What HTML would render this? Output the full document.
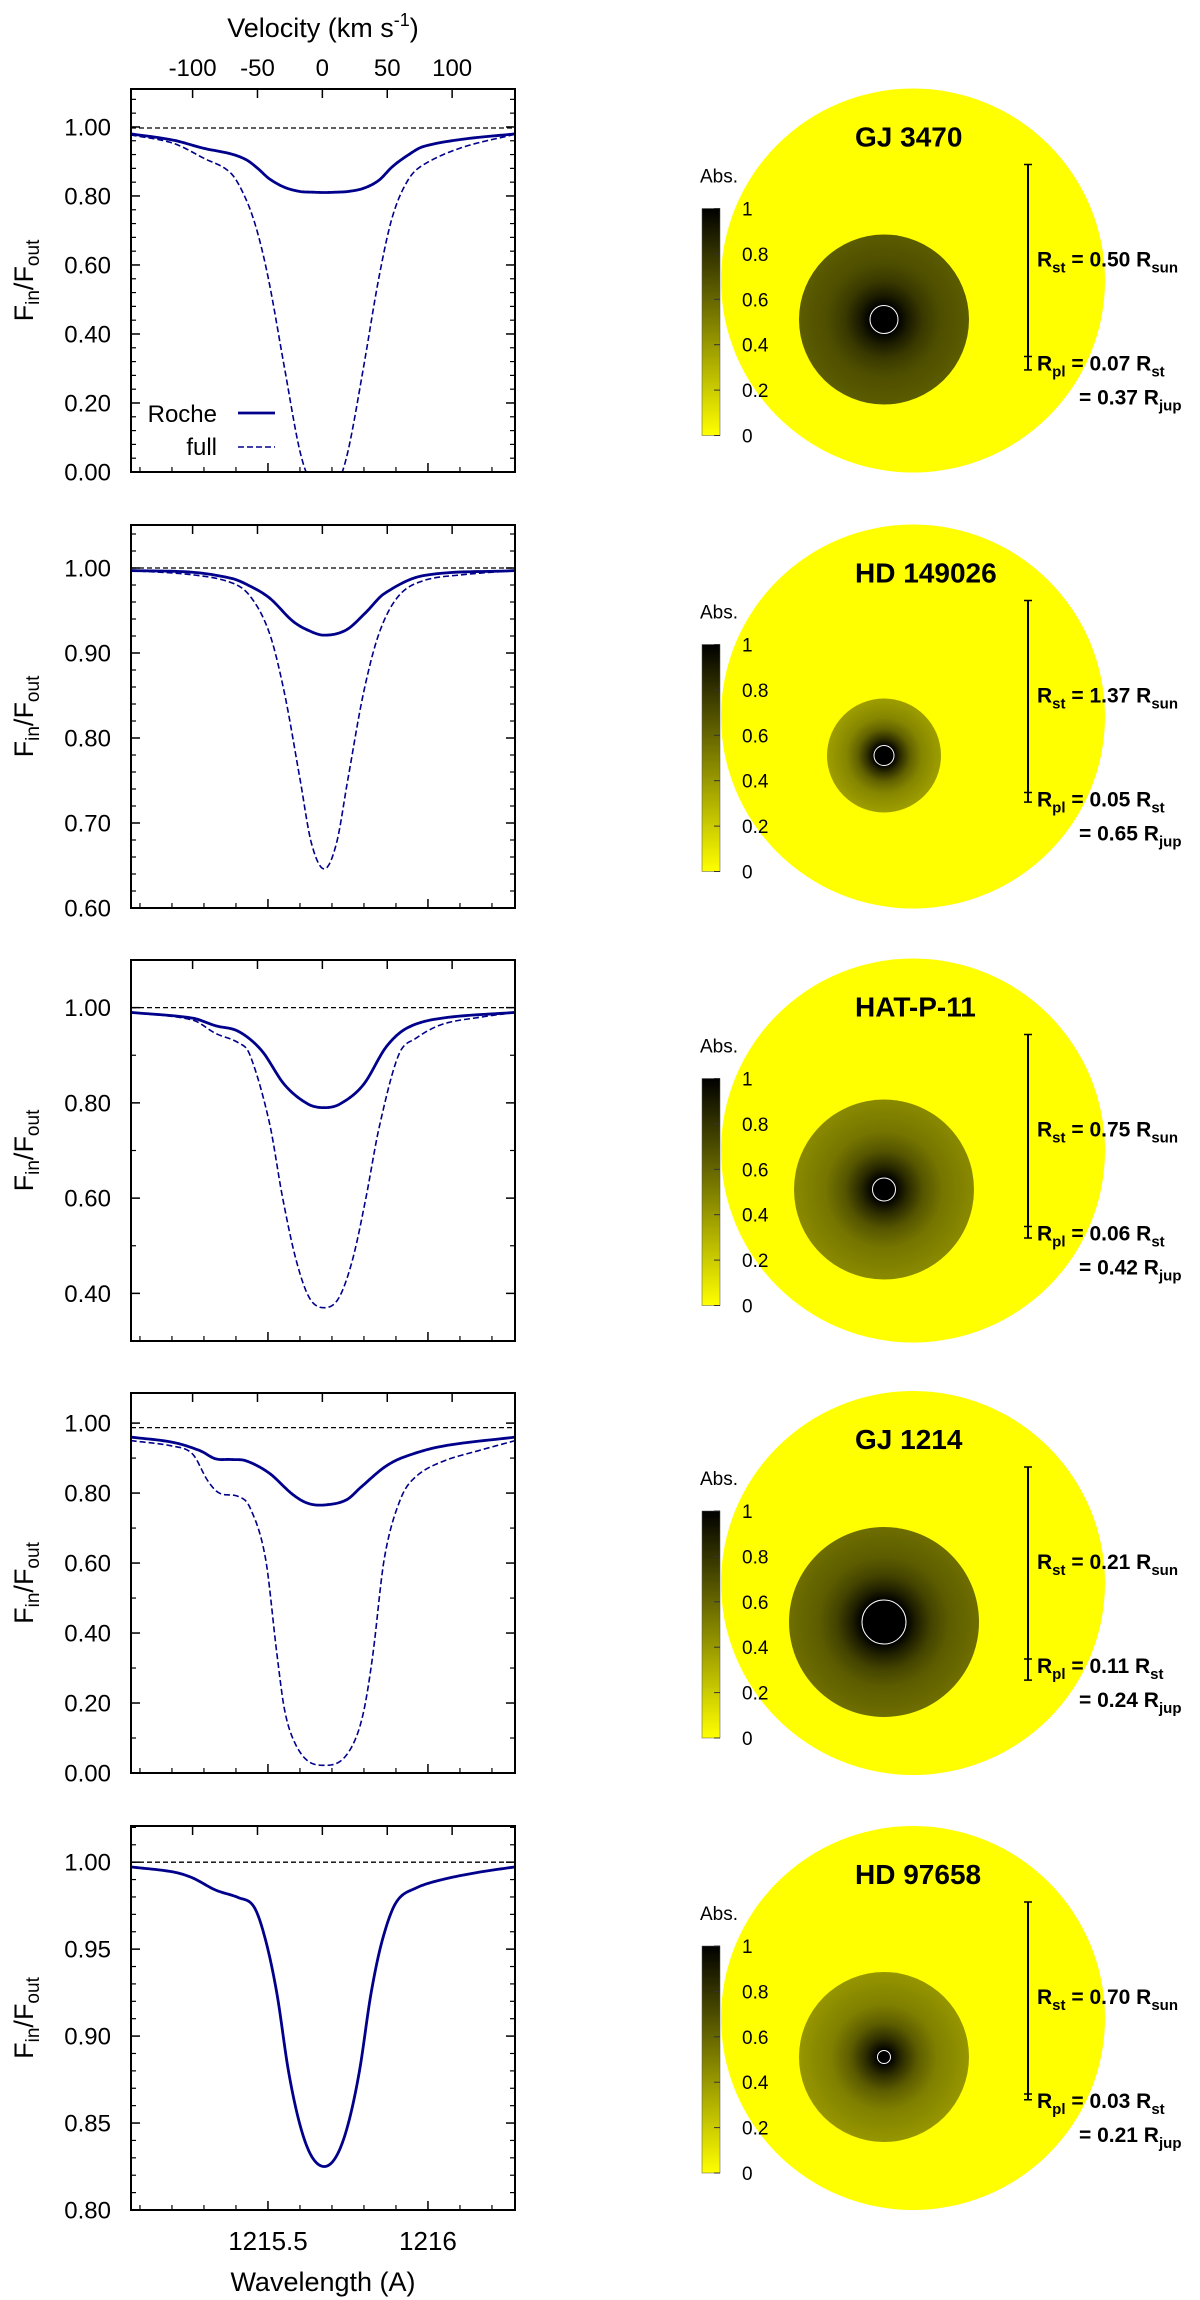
<!DOCTYPE html>
<html><head><meta charset="utf-8"><title>Lyman-alpha transit profiles</title>
<style>
html,body{margin:0;padding:0;background:#fff;}
svg{display:block;font-family:"Liberation Sans",sans-serif;}
</style></head>
<body>
<svg id="fig" width="1200" height="2300" viewBox="0 0 1200 2300" xmlns="http://www.w3.org/2000/svg"></svg>
<script>
// ---- data ----
const panelNames = ["GJ 3470","HD 149026","HAT-P-11","GJ 1214","HD 97658"];
const yMins = [0, 0.6, 0.3, 0, 0.8];
const yMaxs = [1.11, 1.0506, 1.10, 1.086, 1.0208];
const yMajorTicks = [[0,0.2,0.4,0.6,0.8,1.0],[0.6,0.7,0.8,0.9,1.0],[0.4,0.6,0.8,1.0],[0,0.2,0.4,0.6,0.8,1.0],[0.8,0.85,0.9,0.95,1.0]];
const yMinorSteps = [0.04,0.02,0.1,0.1,0.01];
const yTickDecimals = 2;
const refLevels = [0.997, 1.0, 1.0, 0.987, 1.0];
const xTicksMajor = [1215.5, 1216];
const xTickLabels = ["1215.5","1216"];
const xTicksMinor = [1215.1,1215.2,1215.3,1215.4,1215.6,1215.7,1215.8,1215.9,1216.1,1216.2];
const velTicks = [-100,-50,0,50,100];
const lambda0 = 1215.67;

const p1RocheLam = [1215.071,1215.203,1215.300,1215.384,1215.432,1215.468,1215.504,1215.552,1215.600,1215.639,1215.676,1215.714,1215.750,1215.798,1215.846,1215.889,1215.937,1215.985,1216.105,1216.273];
const p1RocheVal = [.98,.962,.938,.922,.905,.88,.85,.825,.813,.811,.81,.811,.813,.822,.845,.885,.918,.943,.964,.98];
const p1FullLam = p1RocheLam;
const p1FullVal = [.977,.953,.909,.866,.789,.692,.548,.30,.06,-0.04,-0.06,-0.04,.06,.30,.56,.74,.845,.89,.94,.979];

const p2RocheLam = [1215.071,1215.264,1215.384,1215.432,1215.504,1215.576,1215.624,1215.676,1215.744,1215.804,1215.864,1215.985,1216.273];
const p2RocheVal = [.997,.995,.988,.981,.965,.938,.927,.921,.927,.947,.97,.991,.997];
const p2FullLam = [1215.071,1215.264,1215.384,1215.444,1215.504,1215.552,1215.600,1215.636,1215.676,1215.714,1215.750,1215.798,1215.848,1215.908,1215.985,1216.105,1216.273];
const p2FullVal = [.997,.992,.983,.967,.924,.852,.752,.676,.646,.676,.752,.852,.924,.967,.985,.992,.997];

const p3RocheLam = [1215.071,1215.264,1215.336,1215.408,1215.480,1215.552,1215.624,1215.676,1215.726,1215.798,1215.870,1215.937,1216.045,1216.273];
const p3RocheVal = [.99,.978,.962,.95,.91,.838,.798,.79,.798,.838,.918,.958,.978,.99];
const p3FullLam = [1215.071,1215.264,1215.336,1215.408,1215.444,1215.504,1215.546,1215.588,1215.630,1215.676,1215.721,1215.764,1215.806,1215.848,1215.908,1215.961,1216.045,1216.165,1216.273];
const p3FullVal = [.99,.974,.946,.926,.90,.76,.60,.47,.39,.37,.39,.47,.60,.75,.90,.935,.965,.98,.99];

const p4RocheLam = [1215.071,1215.203,1215.288,1215.336,1215.384,1215.432,1215.504,1215.576,1215.624,1215.676,1215.744,1215.792,1215.864,1215.925,1216.045,1216.273];
const p4RocheVal = [.96,.945,.921,.898,.896,.892,.857,.797,.771,.766,.78,.818,.874,.903,.934,.96];
const p4FullLam = [1215.071,1215.203,1215.264,1215.312,1215.348,1215.408,1215.444,1215.492,1215.528,1215.552,1215.582,1215.624,1215.676,1215.728,1215.770,1215.800,1215.828,1215.864,1215.913,1215.961,1216.045,1216.165,1216.273];
const p4FullVal = [.95,.934,.912,.835,.80,.79,.758,.615,.34,.18,.09,.035,.022,.035,.09,.18,.34,.615,.78,.846,.89,.923,.95];

const p5RocheLam = [1215.071,1215.203,1215.264,1215.336,1215.408,1215.456,1215.492,1215.528,1215.564,1215.600,1215.636,1215.676,1215.714,1215.750,1215.786,1215.822,1215.858,1215.901,1215.961,1216.045,1216.165,1216.273];
const p5RocheVal = [.9973,.9944,.991,.984,.9796,.9744,.9556,.9244,.88,.849,.831,.825,.831,.849,.88,.9244,.9556,.977,.985,.99,.9944,.9973];

const rocheLams = [p1RocheLam,p2RocheLam,p3RocheLam,p4RocheLam,p5RocheLam];
const rocheVals = [p1RocheVal,p2RocheVal,p3RocheVal,p4RocheVal,p5RocheVal];
const fullLams = [p1FullLam,p2FullLam,p3FullLam,p4FullLam,null];
const fullVals = [p1FullVal,p2FullVal,p3FullVal,p4FullVal,null];

// right column: star maps
const rStarLabels = ["0.50","1.37","0.75","0.21","0.70"];
const rPlStLabels = ["0.07","0.05","0.06","0.11","0.03"];
const rPlJupLabels = ["0.37","0.65","0.42","0.24","0.21"];
const rPlRatio = [0.07,0.05,0.06,0.11,0.03];
const planetPx = [14,10,11.5,22,6.5];
const cloudPx = [85,57,90,95,85];
const cloudEdgeAbs = [0.64,0.38,0.46,0.57,0.41];
const cbTicks = [0,0.2,0.4,0.6,0.8,1];
const cbLabels = ["0","0.2","0.4","0.6","0.8","1"];

// ---- layout ----
const NS = "http://www.w3.org/2000/svg";
const svg = document.getElementById('fig');
const XL = 131, XR = 515, LMIN = 1215.072, LMAX = LMIN + (XR-XL)/320;
const panelTops = [89,525,960,1393,1826];
const panelBots = [472,908,1341,1773,2210];
const NAVY = "#00008b";

function el(tag, attrs, parent){const e=document.createElementNS(NS,tag);for(const k in attrs)e.setAttribute(k,attrs[k]);(parent||svg).appendChild(e);return e;}
function xs(l){return XL + (l-LMIN)/(LMAX-LMIN)*(XR-XL);}
function ysFor(i){const t=panelTops[i],b=panelBots[i];return v=>b-(v-yMins[i])/(yMaxs[i]-yMins[i])*(b-t);}
// cubic Hermite with centred finite-difference slopes, sampled densely
function smoothPath(X, Y){
  const n=X.length, m=new Array(n);
  m[0]=(Y[1]-Y[0])/(X[1]-X[0]); m[n-1]=(Y[n-1]-Y[n-2])/(X[n-1]-X[n-2]);
  for(let i=1;i<n-1;i++) m[i]=(Y[i+1]-Y[i-1])/(X[i+1]-X[i-1]);
  let s="";
  for(let i=0;i<n-1;i++){
    const h=X[i+1]-X[i], N=14;
    for(let k=(i===0?0:1);k<=N;k++){
      const t=k/N, t2=t*t, t3=t2*t;
      const y=(2*t3-3*t2+1)*Y[i]+(t3-2*t2+t)*h*m[i]+(-2*t3+3*t2)*Y[i+1]+(t3-t2)*h*m[i+1];
      const x=X[i]+t*h;
      s+=(s?" L":"M")+x.toFixed(2)+","+y.toFixed(2);
    }
  }
  return s;
}

const defs = el('defs',{});
for(let i=0;i<5;i++){
  const t=panelTops[i], b=panelBots[i], ys=ysFor(i);
  const g = el('g',{});
  
  
  const cp = el('clipPath',{id:'clip'+i},defs);
  el('rect',{x:XL,y:t,width:XR-XL,height:b-t},cp);
  const ref = el('line',{x1:XL,x2:XR,y1:ys(refLevels[i]),y2:ys(refLevels[i]),stroke:'#000','stroke-width':1.3,'stroke-dasharray':'5,3'},g);
  
  
  if(fullLams[i]){
    const p=el('path',{d:smoothPath(fullLams[i].map(xs),fullVals[i].map(ys)),fill:'none',stroke:NAVY,'stroke-width':1.6,'stroke-dasharray':'6,3','clip-path':'url(#clip'+i+')'},g);
    
    
  }
  const rp=el('path',{d:smoothPath(rocheLams[i].map(xs),rocheVals[i].map(ys)),fill:'none',stroke:NAVY,'stroke-width':2.8,'stroke-linejoin':'round','clip-path':'url(#clip'+i+')'},g);
  
  
  const fr=el('rect',{x:XL,y:t,width:XR-XL,height:b-t,fill:'none',stroke:'#000','stroke-width':2},g);
  
  
  const maj=yMajorTicks[i];
  maj.forEach(v=>{
    const y=ys(v);
    el('line',{x1:XL,x2:XL+9,y1:y,y2:y,stroke:'#000','stroke-width':1.5},g);
    el('line',{x1:XR,x2:XR-9,y1:y,y2:y,stroke:'#000','stroke-width':1.5},g);
    const tx=el('text',{x:111,y:y+8.5,'text-anchor':'end','font-size':24,fill:'#000'},g);
    tx.textContent=v.toFixed(yTickDecimals);
    
    
  });
  const st=yMinorSteps[i];
  for(let v=Math.ceil(yMins[i]/st)*st; v<=yMaxs[i]+1e-9; v+=st){
    if(maj.some(m=>Math.abs(m-v)<1e-6)) continue;
    const y=ys(v);
    el('line',{x1:XL,x2:XL+5,y1:y,y2:y,stroke:'#000','stroke-width':1.2},g);
    el('line',{x1:XR,x2:XR-5,y1:y,y2:y,stroke:'#000','stroke-width':1.2},g);
  }
  xTicksMajor.forEach(l=>el('line',{x1:xs(l),x2:xs(l),y1:b,y2:b-9,stroke:'#000','stroke-width':1.5},g));
  xTicksMinor.forEach(l=>el('line',{x1:xs(l),x2:xs(l),y1:b,y2:b-5,stroke:'#000','stroke-width':1.2},g));
  velTicks.forEach(v=>{const l=lambda0*(1+v/299792.458);el('line',{x1:xs(l),x2:xs(l),y1:t,y2:t+9,stroke:'#000','stroke-width':1.5},g);});
  const cy=(t+b)/2;
  const yl=el('text',{x:0,y:0,transform:'translate(33,'+cy+') rotate(-90)','text-anchor':'middle','font-size':27,fill:'#000'},g);
  yl.innerHTML='F<tspan font-size="19" dy="6">in</tspan><tspan dy="-6">/F</tspan><tspan font-size="19" dy="6">out</tspan>';
  
  

  // ---- star map ----
  const cx=913, scy=(t+b)/2, R=192;
  const sg=el('g',{});
  
  
  const star=el('circle',{cx:cx,cy:scy,r:R,fill:'#ffff00'},sg);
  
  
  const gid='cg'+i, e=cloudEdgeAbs[i], rr=cloudPx[i], pr=planetPx[i]/rr;
  const rg=el('radialGradient',{id:gid},defs);
  const col=a=>{const c=Math.round(255*(1-a));return 'rgb('+c+','+c+',0)';};
  [[0,1],[pr,1],[pr+(1-pr)*0.15,e+(1-e)*0.7],[pr+(1-pr)*0.35,e+(1-e)*0.38],[pr+(1-pr)*0.6,e+(1-e)*0.15],[1,e]].forEach(s=>el('stop',{offset:s[0],'stop-color':col(s[1])},rg));
  const dcx=cx-29, dcy=scy+39;
  const cloud=el('circle',{cx:dcx,cy:dcy,r:rr,fill:'url(#'+gid+')'},sg);
  
  
  const pl=el('circle',{cx:dcx,cy:dcy,r:planetPx[i],fill:'#000',stroke:'#fff','stroke-width':1},sg);
  
  
  const ti=el('text',{x:855,y:scy-134,'font-size':28,'font-weight':'bold',fill:'#000'},sg);
  ti.textContent=panelNames[i];
  
  
  const cbT=scy-72, cbB=scy+155;
  const lg=el('linearGradient',{id:'cb'+i,x1:0,y1:1,x2:0,y2:0},defs);
  el('stop',{offset:0,'stop-color':'#ffff00'},lg);el('stop',{offset:1,'stop-color':'#000'},lg);
  const cb=el('rect',{x:702,y:cbT,width:18,height:cbB-cbT,fill:'url(#cb'+i+')',stroke:'#555','stroke-width':0.5},sg);
  
  
  cbTicks.forEach((v,k)=>{
    const y=cbB-v*(cbB-cbT);
    el('line',{x1:714,x2:720,y1:y,y2:y,stroke:'#333','stroke-width':1},sg);
    const tl=el('text',{x:742,y:y+7,'font-size':19,fill:'#000'},sg);
    tl.textContent=cbLabels[k];
    
    
  });
  const ab=el('text',{x:700,y:scy-98,'font-size':19,fill:'#000'},sg);
  ab.textContent='Abs.';
  
  
  const sbT=scy-R+76, tick=sbT+R, sbB=tick+rPlRatio[i]*R;
  el('line',{x1:1028,x2:1028,y1:sbT,y2:sbB,stroke:'#000','stroke-width':2},sg);
  [sbT,tick,sbB].forEach(y=>el('line',{x1:1024,x2:1032,y1:y,y2:y,stroke:'#000','stroke-width':1.5},sg));
  const t1=el('text',{x:1037,y:scy-14,'font-size':21,'font-weight':'bold',fill:'#000'},sg);
  t1.innerHTML='R<tspan font-size="15" dy="6">st</tspan><tspan dy="-6"> = '+rStarLabels[i]+' R</tspan><tspan font-size="15" dy="6">sun</tspan>';
  
  
  const t2=el('text',{x:1037,y:scy+90,'font-size':21,'font-weight':'bold',fill:'#000'},sg);
  t2.innerHTML='R<tspan font-size="15" dy="6">pl</tspan><tspan dy="-6"> = '+rPlStLabels[i]+' R</tspan><tspan font-size="15" dy="6">st</tspan>';
  
  
  const t3=el('text',{x:1079,y:scy+124,'font-size':21,'font-weight':'bold',fill:'#000'},sg);
  t3.innerHTML='= '+rPlJupLabels[i]+' R<tspan font-size="15" dy="6">jup</tspan>';
  
  
}

velTicks.forEach(v=>{
  const l=lambda0*(1+v/299792.458);
  const t=el('text',{x:xs(l),y:76,'text-anchor':'middle','font-size':24,fill:'#000'});
  t.textContent=String(v);
  
  
});
const vt=el('text',{x:323,y:37,'text-anchor':'middle','font-size':27,fill:'#000'});
vt.innerHTML='Velocity (km s<tspan font-size="18" dy="-11">-1</tspan><tspan dy="11">)</tspan>';



xTicksMajor.forEach((l,k)=>{
  const t=el('text',{x:xs(l),y:2250,'text-anchor':'middle','font-size':26,fill:'#000'});
  t.textContent=xTickLabels[k];
  
  
});
const xt=el('text',{x:323,y:2291,'text-anchor':'middle','font-size':27,fill:'#000'});
xt.textContent='Wavelength (A)';



const lgG=el('g',{});


const lt1=el('text',{x:217,y:422,'text-anchor':'end','font-size':24,fill:'#000'},lgG);
lt1.textContent='Roche';


el('line',{x1:238,x2:275,y1:413,y2:413,stroke:NAVY,'stroke-width':2.8},lgG);
const lt2=el('text',{x:217,y:455,'text-anchor':'end','font-size':24,fill:'#000'},lgG);
lt2.textContent='full';


el('line',{x1:238,x2:275,y1:447,y2:447,stroke:NAVY,'stroke-width':1.6,'stroke-dasharray':'6,3'},lgG);
</script>
</body></html>
